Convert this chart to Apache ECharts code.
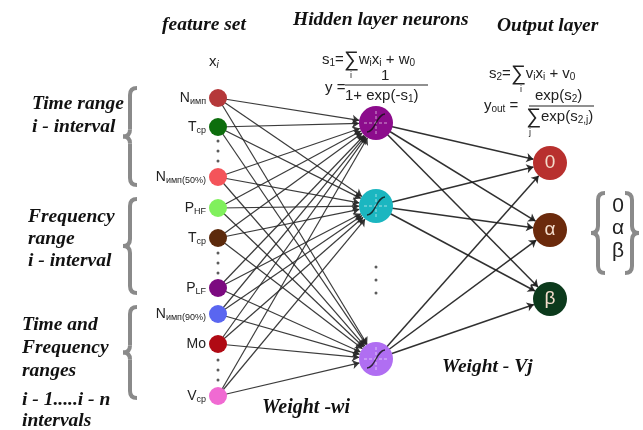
<!DOCTYPE html>
<html><head><meta charset="utf-8">
<script src="https://cdn.jsdelivr.net/npm/echarts@6/dist/echarts.min.js"></script>
<style>html,body{margin:0;padding:0;background:#fff}#c{width:643px;height:430px}</style>
</head><body><div id="c"></div>
<script>
// ---- data ----
const layerX = [218, 376, 550];
const inputMain = ['N', 'T', 'N', 'P', 'T', 'P', 'N', 'Mo', 'V'];
const inputSub = ['имп', 'ср', 'имп(50%)', 'HF', 'ср', 'LF', 'имп(90%)', '', 'ср'];
const inputY = [98, 127, 177, 208, 238, 288, 314, 344, 396];
const inputColors = ['#b5383a', '#0d6e0d', '#f4545a', '#80f05c', '#5c2a0c', '#7c0a80', '#5a66f0', '#b00a14', '#f06ad2'];
const hiddenY = [123, 206, 359];
const hiddenColors = ['#8c0c8c', '#1bb6c0', '#b06ef2'];
const outputLabels = ['0', 'α', 'β'];
const outputY = [163, 230, 299];
const outputColors = ['#b8302e', '#6b2a0c', '#0c3a1c'];
const inputDotsY = [141, 151, 161, 253, 263, 273, 360, 370, 380];
const hiddenDotsY = [267, 280, 293];

const sans = 'Liberation Sans, Arial, sans-serif';
const serif = 'Liberation Serif, Times New Roman, serif';

// ---- nodes ----
const nodes = [];
inputY.forEach((y, i) => {
  nodes.push({
    name: 'in' + i, value: [layerX[0], y], symbolSize: 18,
    itemStyle: { color: inputColors[i] },
    label: {
      show: true, position: 'left', distance: 3,
      formatter: '{m|' + inputMain[i] + '}' + (inputSub[i] ? '{s|' + inputSub[i] + '}' : ''),
      rich: {
        m: { fontSize: 14, fontFamily: sans, color: '#222' },
        s: { fontSize: 9, fontFamily: sans, color: '#222', padding: [7, 0, 0, 0] }
      }
    }
  });
});
hiddenY.forEach((y, i) => {
  nodes.push({ name: 'h' + i, value: [layerX[1], y], symbolSize: 34, itemStyle: { color: hiddenColors[i] }, label: { show: false } });
});
outputY.forEach((y, i) => {
  nodes.push({
    name: 'o' + i, value: [layerX[2], y], symbolSize: 34, itemStyle: { color: outputColors[i] },
    label: { show: true, position: 'inside', formatter: outputLabels[i], fontSize: 19, fontFamily: sans, color: '#f3dccb' }
  });
});
const links = [];
inputY.forEach((_, i) => hiddenY.forEach((_, h) => links.push({ source: 'in' + i, target: 'h' + h })));
hiddenY.forEach((_, h) => outputY.forEach((_, o) => links.push({ source: 'h' + h, target: 'o' + o, lineStyle: { width: 1.5, color: '#1a1a1a' } })));

// ---- helpers for graphics ----
function brace(x, yt, yb, dir, color) {
  const w = 7 * dir, ym = (yt + yb) / 2, r = 7;
  const xr = x + w, xm = x, xl = x - w;
  const st = { stroke: color, lineWidth: 4, fill: null };
  const q = (x1, y1, cx, cy, x2, y2) => ({ type: 'bezierCurve', shape: { x1, y1, cpx1: cx, cpy1: cy, x2, y2 }, style: st });
  return {
    type: 'group', children: [
      q(xr, yt, xm, yt, xm, yt + r),
      { type: 'line', shape: { x1: xm, y1: yt + r, x2: xm, y2: ym - r }, style: st },
      q(xm, ym - r, xm, ym, xl, ym),
      q(xl, ym, xm, ym, xm, ym + r),
      { type: 'line', shape: { x1: xm, y1: ym + r, x2: xm, y2: yb - r }, style: st },
      q(xm, yb - r, xm, yb, xr, yb)
    ]
  };
}
function txt(x, y, text, size, font, extra) {
  return { type: 'text', x: x, y: y, style: Object.assign({ text: text, fontSize: size, fontFamily: font, fill: '#111', textVerticalAlign: 'middle' }, extra || {}) };
}
const bi = { fontWeight: 'bold', fontStyle: 'italic' };
const graphics = [
  txt(162, 25, 'feature set', 19.5, serif, bi),
  txt(293, 20, 'Hidden layer neurons', 19.5, serif, bi),
  txt(497, 26, 'Output layer', 19.5, serif, bi),
  txt(32, 104, 'Time range', 19.5, serif, bi),
  txt(32, 127, 'i - interval', 19.5, serif, bi),
  txt(28, 217, 'Frequency', 19.5, serif, bi),
  txt(28, 239, 'range', 19.5, serif, bi),
  txt(28, 261, 'i - interval', 19.5, serif, bi),
  txt(22, 325, 'Time and', 19.5, serif, bi),
  txt(22, 348, 'Frequency', 19.5, serif, bi),
  txt(22, 371, 'ranges', 19.5, serif, bi),
  txt(22, 400, 'i - 1.....i - n', 19.5, serif, bi),
  txt(22, 421, 'intervals', 19.5, serif, bi),
  txt(262, 408, 'Weight -wi', 20, serif, bi),
  txt(442, 367, 'Weight - Vj', 19.5, serif, bi),
  // x_i
  { type: 'text', x: 209, y: 62, style: { rich: { a: { fontSize: 15, fontFamily: sans, fill: '#222' }, b: { fontSize: 10, fontFamily: sans, fontStyle: 'italic', fill: '#222', padding: [6, 0, 0, 0] } }, text: '{a|x}{b|i}', textVerticalAlign: 'middle' } },
  // hidden formulas
  { type: 'text', x: 322, y: 60, style: { rich: { a: { fontSize: 15, fontFamily: sans, fill: '#222' }, g: { fontSize: 21, fontFamily: sans, fill: '#222' }, b: { fontSize: 10, fontFamily: sans, fill: '#222', padding: [6, 0, 0, 0] } }, text: '{a|s}{b|1}{a|=}{g|∑}{a|w}{b|i}{a|x}{b|i}{a| + w}{b|0}', textVerticalAlign: 'middle' } },
  txt(350, 76, 'i', 9, sans, { fill: '#222' }),
  txt(325, 88, 'y =', 15, sans, { fill: '#222' }),
  txt(381, 76, '1', 15, sans, { fill: '#222' }),
  { type: 'line', shape: { x1: 345, y1: 85, x2: 428, y2: 85 }, style: { stroke: '#222', lineWidth: 1.2 } },
  { type: 'text', x: 345, y: 96, style: { rich: { a: { fontSize: 15, fontFamily: sans, fill: '#222' }, b: { fontSize: 10, fontFamily: sans, fill: '#222', padding: [6, 0, 0, 0] } }, text: '{a|1+ exp(-s}{b|1}{a|)}', textVerticalAlign: 'middle' } },
  // output formulas
  { type: 'text', x: 489, y: 74, style: { rich: { a: { fontSize: 15, fontFamily: sans, fill: '#222' }, g: { fontSize: 21, fontFamily: sans, fill: '#222' }, b: { fontSize: 10, fontFamily: sans, fill: '#222', padding: [6, 0, 0, 0] } }, text: '{a|s}{b|2}{a|=}{g|∑}{a|v}{b|i}{a|x}{b|i}{a| + v}{b|0}', textVerticalAlign: 'middle' } },
  txt(520, 90, 'i', 9, sans, { fill: '#222' }),
  { type: 'text', x: 484, y: 106, style: { rich: { a: { fontSize: 15, fontFamily: sans, fill: '#222' }, b: { fontSize: 10, fontFamily: sans, fill: '#222', padding: [6, 0, 0, 0] } }, text: '{a|y}{b|out}{a| =}', textVerticalAlign: 'middle' } },
  { type: 'text', x: 535, y: 96, style: { rich: { a: { fontSize: 15, fontFamily: sans, fill: '#222' }, b: { fontSize: 10, fontFamily: sans, fill: '#222', padding: [6, 0, 0, 0] } }, text: '{a|exp(s}{b|2}{a|)}', textVerticalAlign: 'middle' } },
  { type: 'line', shape: { x1: 529, y1: 106, x2: 594, y2: 106 }, style: { stroke: '#222', lineWidth: 1.2 } },
  { type: 'text', x: 526, y: 117, style: { rich: { a: { fontSize: 15, fontFamily: sans, fill: '#222' }, g: { fontSize: 21, fontFamily: sans, fill: '#222' }, b: { fontSize: 10, fontFamily: sans, fill: '#222', padding: [6, 0, 0, 0] } }, text: '{g|∑}{a|exp(s}{b|2,j}{a|)}', textVerticalAlign: 'middle' } },
  txt(529, 133, 'j', 9, sans, { fill: '#222' }),
  // braces
  brace(130, 88, 185, 1, '#8a8a8a'),
  brace(130, 199, 293, 1, '#8a8a8a'),
  brace(130, 307, 398, 1, '#8a8a8a'),
  brace(598, 193, 273, 1, '#8a8a8a'),
  brace(632, 193, 273, -1, '#8a8a8a'),
  txt(618, 206, '0', 21, sans, { fill: '#222', textAlign: 'center' }),
  txt(618, 228, 'α', 21, sans, { fill: '#222', textAlign: 'center' }),
  txt(618, 251, 'β', 21, sans, { fill: '#222', textAlign: 'center' })
];

const chart = echarts.init(document.getElementById('c'));
chart.setOption({
  backgroundColor: '#fff',
  animation: false,
  grid: { left: 0, right: 0, top: 0, bottom: 0 },
  xAxis: { type: 'value', min: 0, max: 643, show: false },
  yAxis: { type: 'value', min: 0, max: 430, inverse: true, show: false },
  graphic: graphics,
  series: [
    {
      type: 'graph', coordinateSystem: 'cartesian2d', z: 2,
      data: nodes, links: links,
      edgeSymbol: ['none', 'arrow'], edgeSymbolSize: 7,
      lineStyle: { color: '#262626', width: 1.2, opacity: 0.9 },
      emphasis: { disabled: true }
    },
    {
      type: 'scatter', z: 5, silent: true,
      symbol: 'path://M0,10 L20,10 M10,0 L10,20', symbolSize: 24,
      itemStyle: { color: 'transparent', borderColor: 'rgba(255,255,255,0.75)', borderWidth: 1, borderType: [3, 2] },
      data: hiddenY.map(y => [layerX[1], y])
    },
    {
      type: 'scatter', z: 1, silent: true,
      symbol: 'path://M0,10 L20,10 M10,0 L10,20', symbolSize: 24,
      itemStyle: { color: 'transparent', borderColor: 'rgba(255,255,255,0.35)', borderWidth: 1, borderType: [3, 2] },
      data: outputY.map(y => [layerX[2], y])
    },
    {
      type: 'scatter', z: 6, silent: true,
      symbol: 'path://M0,20 C9,20 11,0 20,0', symbolSize: [18, 18],
      itemStyle: { color: 'transparent', borderColor: '#111', borderWidth: 1.4 },
      data: hiddenY.map(y => [layerX[1], y])
    },
    {
      type: 'scatter', z: 3, silent: true, symbolSize: 3,
      itemStyle: { color: '#333' },
      data: inputDotsY.map(y => [layerX[0], y]).concat(hiddenDotsY.map(y => [layerX[1], y]))
    }
  ]
});
</script>
</body></html>
